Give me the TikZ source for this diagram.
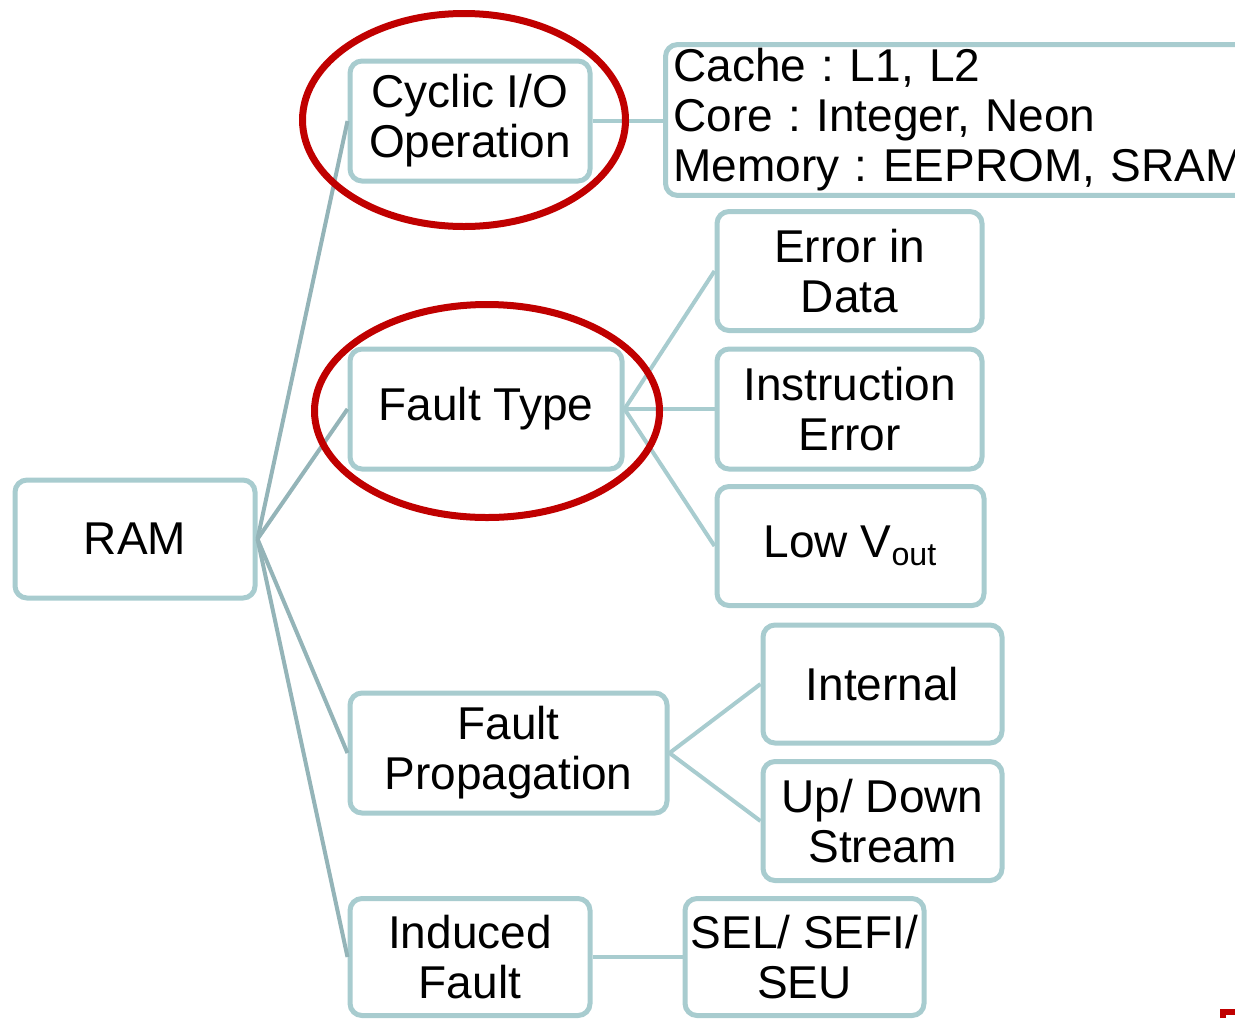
\documentclass[tikz,border=0pt]{standalone}
\usepackage{fontspec}
\setmainfont{Liberation Sans}
\begin{document}
\begin{tikzpicture}[x=0.5pt,y=-0.5pt]
\definecolor{drawColor}{RGB}{168,204,207}
\definecolor{linkColor}{RGB}{148,180,184}
\definecolor{ringColor}{RGB}{192,0,0}
\tikzset{
  box/.style={draw=drawColor,line width=2.5pt,rounded corners=6pt,fill=white,
    align=center,inner sep=2pt,font=\fontsize{23}{25}\selectfont\frenchspacing},
  link/.style={draw=drawColor,line width=2pt},
  rootlink/.style={draw=linkColor,line width=2pt},
  ring/.style={draw=ringColor,line width=3.5pt}
}
\useasboundingbox (0,0) rectangle (1235,1018);
\clip (0,0) rectangle (1235,1018);

\node[box,minimum width=120pt,minimum height=59pt] (ram) at (135,539) {RAM};

\node[box,minimum width=120pt,minimum height=60pt] (cyclic) at (470,121) {Cyclic I/O\\Operation};
\node[box,minimum width=136pt,minimum height=60pt] (ftype) at (486,409) {Fault Type};
\node[box,minimum width=158.5pt,minimum height=60pt] (fprop) at (508.5,753) {Fault\\Propagation};
\node[box,minimum width=120pt,minimum height=58.5pt] (induced) at (470,957) {Induced\\Fault};

\node[box,anchor=west,minimum height=72.5pt,text width=330pt,align=left,inner xsep=4pt] (cache) at (663,120) {Cache : L1, L2\\Core : Integer, Neon\\Memory : EEPROM, SRAM};

\node[box,minimum width=132.5pt,minimum height=59.5pt] (errdata) at (849.5,271) {Error in\\Data};
\node[box,minimum width=132.5pt,minimum height=60pt] (instr) at (849.5,409) {Instruction\\Error};
\node[box,minimum width=133.5pt,minimum height=59.5pt] (lowv) at (850.5,546) {Low V\textsubscript{out}};

\node[box,minimum width=119.5pt,minimum height=59pt] (internal) at (882.5,684) {Internal};
\node[box,minimum width=119.5pt,minimum height=59.5pt] (updown) at (882.5,821) {Up/ Down\\Stream};

\node[box,minimum width=119.5pt,minimum height=58.5pt] (sel) at (804.5,957) {SEL/ SEFI/\\SEU};

\draw[rootlink] (ram.east) -- (cyclic.west);
\draw[rootlink] (ram.east) -- (ftype.west);
\draw[rootlink] (ram.east) -- (fprop.west);
\draw[rootlink] (ram.east) -- (induced.west);

\draw[link] (cyclic.east) -- (cyclic.east -| cache.west);
\draw[link] (ftype.east) -- (errdata.west);
\draw[link] (ftype.east) -- (instr.west);
\draw[link] (ftype.east) -- (lowv.west);
\draw[link] (fprop.east) -- (internal.west);
\draw[link] (fprop.east) -- (updown.west);
\draw[link] (induced.east) -- (sel.west);

\draw[ring] (464,120) ellipse [x radius=161.5,y radius=106.5];
\draw[ring] (487,411) ellipse [x radius=172.5,y radius=106.5];

\draw[draw=ringColor,line width=3pt] (1223,1018) -- (1223,1012) -- (1235,1012);
\end{tikzpicture}
\end{document}
